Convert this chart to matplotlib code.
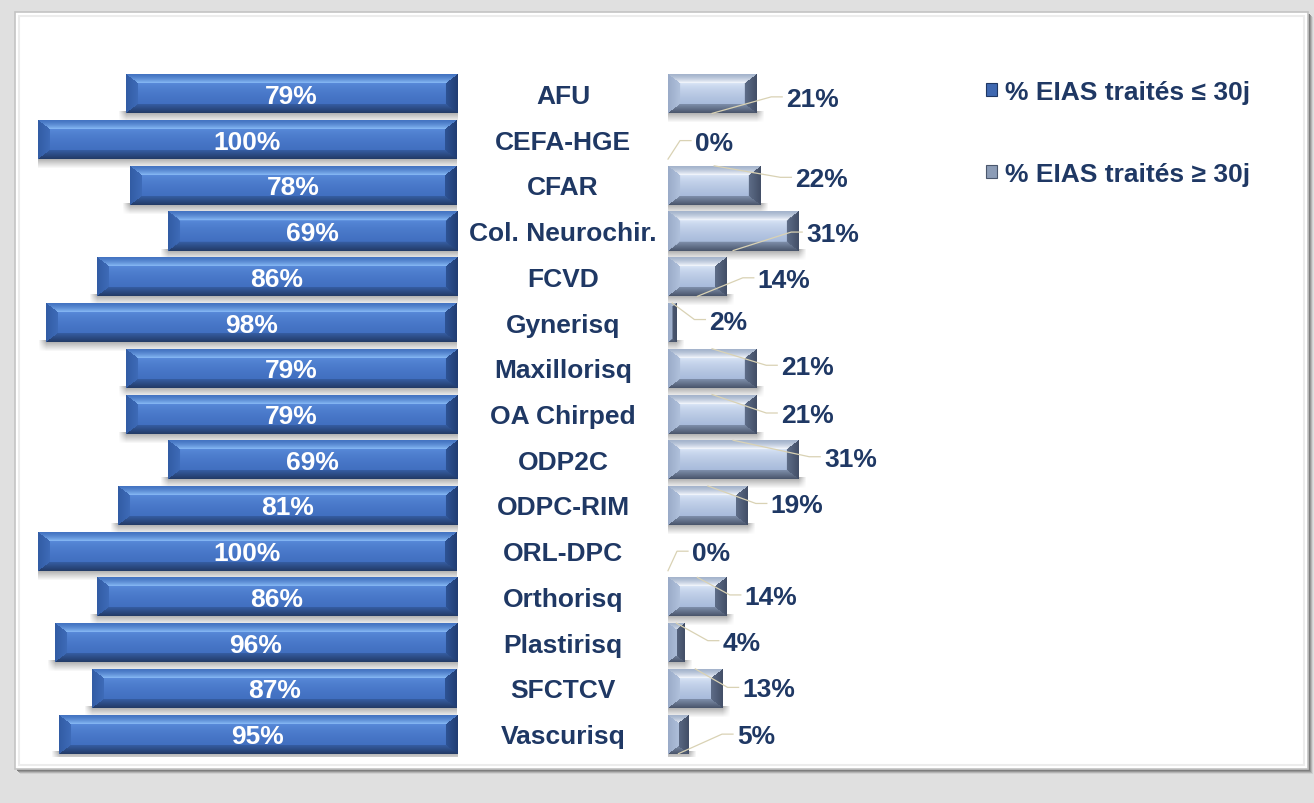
import numpy as np
import matplotlib.pyplot as plt
from matplotlib.colors import to_rgb
from matplotlib.patches import Rectangle, Patch

plt.rcParams['font.family'] = ['Liberation Sans', 'DejaVu Sans']
plt.rcParams['font.weight'] = 'bold'

categories = ["AFU", "CEFA-HGE", "CFAR", "Col. Neurochir.", "FCVD", "Gynerisq",
              "Maxillorisq", "OA Chirped", "ODP2C", "ODPC-RIM", "ORL-DPC",
              "Orthorisq", "Plastirisq", "SFCTCV", "Vascurisq"]
within_30 = [79, 100, 78, 69, 86, 98, 79, 79, 69, 81, 100, 86, 96, 87, 95]
over_30 = [21, 0, 22, 31, 14, 2, 21, 21, 31, 19, 0, 14, 4, 13, 5]
legend_labels = ["% EIAS traités ≤ 30j", "% EIAS traités ≥ 30j"]

# where Excel put the right-hand labels (pixels from the bar end)
label_dx = [30, 27, 35, 8, 31, 33, 25, 25, 26, 23, 24, 18, 38, 20, 48]
label_dy = [3, 1, -8, 1, 1, -3, -3, -1, -3, -2, 0, -2, -2, -1, 0]

NAVY = '#1f3864'
W, H = 1314, 804
ROW_PX = 686 / 15
BAR_PX = 39
bar_h = BAR_PX / ROW_PX
TXT_DOWN = 2 / ROW_PX

dark_bevel = dict(face_top='#5a8cdb', face_bot='#416fc0', top_out='#4474c2', top_in='#88baf6',
                  bot_in='#365ea3', bot_out='#223a65', left_out='#325ca4', left_in='#3e6bb8',
                  right_out='#213d72', right_in='#2e5395')
light_bevel = dict(face_top='#dde8f8', face_bot='#a8bbdb', top_out='#a4b4cc', top_in='#f6f9ff',
                   bot_in='#7f8fab', bot_out='#48546a', left_out='#9aabc8', left_in='#b0c1dc',
                   right_out='#424e66', right_in='#5e6d88')


def fr(x, y, w, h):
    return (x / W, 1 - (y + h) / H, w / W, h / H)


def mix(a, b, t):
    return np.array(to_rgb(a)) * (1 - t) + np.array(to_rgb(b)) * t


def bevel_image(w, h, c, bx=12, by=9):
    yy, xx = np.mgrid[0:h, 0:w] + 0.5
    d = np.stack([yy / by, (h - yy) / by, xx / bx, (w - xx) / bx])
    side = d.argmin(axis=0)
    t = np.clip(d.min(axis=0), 0, 1)[..., None]
    f = np.clip((yy - by) / (h - 2 * by), 0, 1)[..., None] ** 0.6
    face = mix(c['face_top'], c['face_bot'], f)
    top = mix(c['top_out'], c['top_in'], t ** 1.5)
    bot = mix(c['bot_out'], c['bot_in'], t)
    left = mix(c['left_out'], c['left_in'], t)
    right = mix(c['right_out'], c['right_in'], t)
    inner = (t[..., 0] >= 1)[..., None]
    img = np.where(inner, face,
          np.where((side == 0)[..., None], top,
          np.where((side == 1)[..., None], bot,
          np.where((side == 2)[..., None], left, right))))
    return img


def draw_bar(ax, v, i, sx, colors, inverted):
    w = int(round(v * sx))
    if w < 1:
        return
    # soft shadow under the bar
    sh = np.zeros((10, w + 14, 4))
    sh[..., :3] = 0.3
    fade_y = np.linspace(0.5, 0.0, 10)[:, None]
    fade_x = np.clip(np.minimum(np.arange(w + 14) + 1, w + 14 - np.arange(w + 14)) / 8, 0, 1)[None, :]
    sh[..., 3] = fade_y * fade_x
    ext = 7 / sx
    y_b = i + bar_h / 2
    if inverted:
        ax.imshow(sh, extent=(v + ext, -ext, y_b + 10 / ROW_PX, y_b - 2 / ROW_PX),
                  aspect='auto', interpolation='bilinear', zorder=1)
        x_ext = (v, 0)
    else:
        ax.imshow(sh, extent=(-ext, v + ext, y_b + 10 / ROW_PX, y_b - 2 / ROW_PX),
                  aspect='auto', interpolation='bilinear', zorder=1)
        x_ext = (0, v)
    img = bevel_image(w, BAR_PX, colors)
    ax.imshow(img, extent=(x_ext[0], x_ext[1], i + bar_h / 2, i - bar_h / 2),
              aspect='auto', interpolation='bilinear', zorder=2)


fig = plt.figure(figsize=(W / 100, H / 100), dpi=100, facecolor='#e0e0e0')

# chart area frame with a bevelled shadow
for off, col in [(5, '#d0d0d0'), (4, '#b4b4b4'), (3, '#969696'), (2, '#7e7e7e')]:
    fig.add_artist(Rectangle(fr(15 + off, 13 + off, 1293, 757)[:2], 1293 / W, 757 / H,
                             transform=fig.transFigure, facecolor=col, edgecolor='none', zorder=0))
fig.add_artist(Rectangle(fr(15, 13, 1293, 757)[:2], 1293 / W, 757 / H, transform=fig.transFigure,
                         facecolor='white', edgecolor='#c4c4c4', lw=1.2, zorder=0))
fig.add_artist(Rectangle(fr(19, 17, 1285, 749)[:2], 1285 / W, 749 / H, transform=fig.transFigure,
                         facecolor='none', edgecolor='#ececec', lw=1.5, zorder=0))

axL = fig.add_axes(fr(38, 72, 419, 686))
axR = fig.add_axes(fr(668, 72, 420, 686))
sxL, sxR = 419 / 100, 420 / 100

for i, v in enumerate(within_30):
    draw_bar(axL, v, i, sxL, dark_bevel, True)
    axL.text(v / 2, i + TXT_DOWN, f"{v}%", ha='center', va='center', color='white',
             fontsize=19, fontweight='bold', zorder=3)
    axL.annotate(categories[i], xy=(0, i + TXT_DOWN), xytext=(106, 0), textcoords='offset pixels',
                 ha='center', va='center', color=NAVY, fontsize=19, fontweight='bold',
                 annotation_clip=False)

for i, v in enumerate(over_30):
    draw_bar(axR, v, i, sxR, light_bevel, False)
    tx = v + label_dx[i] / sxR
    ty = i + label_dy[i] / ROW_PX
    ty_target = i + bar_h / 2 if label_dy[i] >= 0 else i - bar_h / 2
    axR.plot([tx - 4 / sxR, tx - 15 / sxR, v / 2], [ty, ty, ty_target],
             color='#d9d2b4', lw=0.9, zorder=2.5, clip_on=False)
    axR.text(tx, ty + TXT_DOWN, f"{v}%", ha='left', va='center', color=NAVY,
             fontsize=19, fontweight='bold', zorder=3, clip_on=False)

axL.set_xlim(100, 0)
axR.set_xlim(0, 100)
for ax in (axL, axR):
    ax.set_ylim(14.5, -0.5)
    ax.axis('off')

handles = [Patch(facecolor='#3f68b0', edgecolor='#1f3864', lw=0.8),
           Patch(facecolor='#8c9cb6', edgecolor='#4a576d', lw=0.8)]
fig.legend(handles, legend_labels, loc='upper left', bbox_to_anchor=(986 / W, 1 - 81 / H),
           frameon=False, prop=dict(size=19, weight='bold'), labelcolor=NAVY,
           handlelength=0.42, handleheight=0.42, handletextpad=0.3, labelspacing=2.2,
           borderaxespad=0, borderpad=0)

fig.savefig('out.png', dpi=100, facecolor=fig.get_facecolor())
